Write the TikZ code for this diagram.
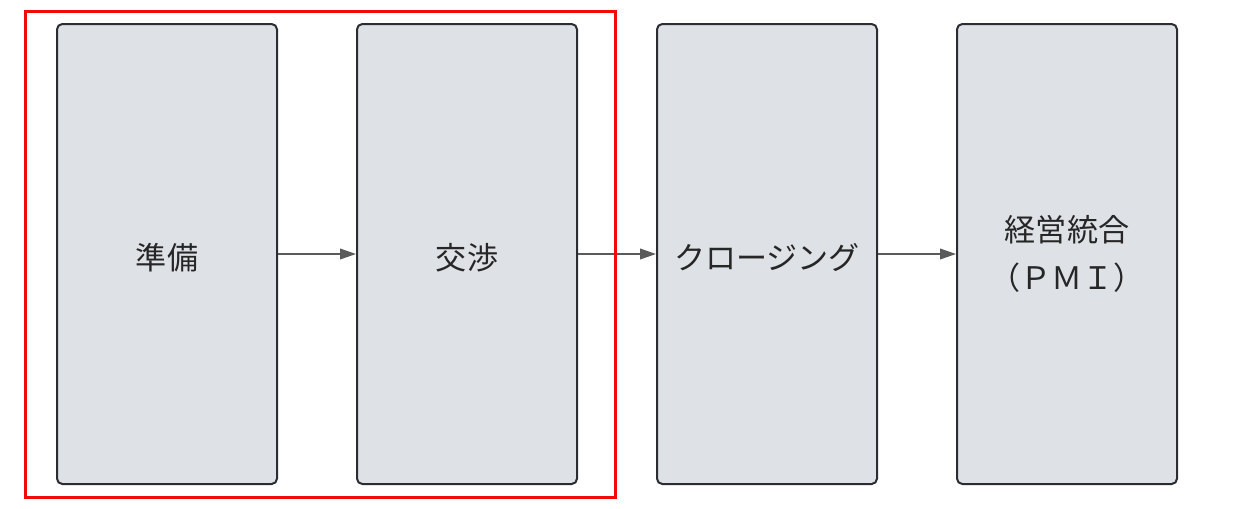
\documentclass[tikz,border=0pt]{standalone}
\usepackage{fontspec}
\setmainfont{Noto Sans CJK JP}
\usetikzlibrary{arrows.meta}
\definecolor{boxfill}{HTML}{DEE1E6}
\definecolor{boxline}{HTML}{2B2D33}
\definecolor{arrowgray}{HTML}{5A5A5A}
\definecolor{framered}{HTML}{F00A0A}
\tikzset{
	phase/.style={draw=boxline, fill=boxfill, line width=1.5pt, rounded corners=4pt,
		minimum width=165pt, minimum height=345pt, inner sep=0pt,
		align=center, font=\fontsize{23.3}{36}\selectfont, text=black!85},
	flow/.style={draw=arrowgray, line width=1.2pt, -{Triangle[length=12pt,width=8pt]}}
}
\newcommand{\drawFlow}[2]{
	\draw[flow] (#1.east) -- (#2.west);
}
\newcommand{\phaseText}[1]{\raisebox{-3pt}[\height][\depth]{#1}}

\begin{document}
\begin{tikzpicture}[x=0.75pt,y=-0.75pt]
	\useasboundingbox (0,0) rectangle (1234,508);

	\node[phase] (Prep) at (167,254) {\phaseText{準備}};
	\node[phase] (Nego) at (467,254) {\phaseText{交渉}};
	\node[phase] (Close) at (767,254) {\phaseText{クロージング}};
	\node[phase] (PMI) at (1067,254) {経営統合\\（ＰＭＩ）};

	\drawFlow{Prep}{Nego}
	\drawFlow{Nego}{Close}
	\drawFlow{Close}{PMI}

	% red frame round the first two phases
	\draw[framered, line width=2.25pt] (25.5,11.5) rectangle (615,497.5);
\end{tikzpicture}
\end{document}
